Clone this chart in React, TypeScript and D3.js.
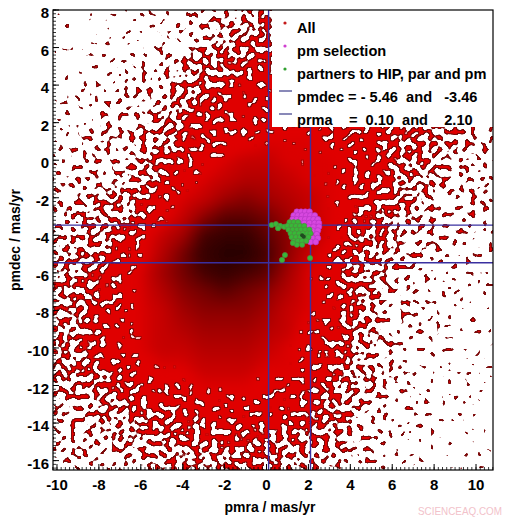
import React, { useMemo } from 'react';
import * as d3 from 'd3';

const W = 516;
const H = 521;
const M = { left: 53, right: 493, top: 10, bottom: 470 };
const PAD = 30;

const xDomain = [-10.19, 10.81];
const yDomain = [-16.5, 8];
const xTicks = [-10, -8, -6, -4, -2, 0, 2, 4, 6, 8, 10];
const yTicks = [-16, -14, -12, -10, -8, -6, -4, -2, 0, 2, 4, 6, 8];

// density of the "All" sample on a 1 mas/yr grid
// (1 = a few isolated stars ... 6 = fully covered, higher = darker core)
const gridX = [-10, -9, -8, -7, -6, -5, -4, -3, -2, -1, 0, 1, 2, 3, 4, 5, 6, 7, 8, 9, 10];
const gridY = [8, 7, 6, 5, 4, 3, 2, 1, 0, -1, -2, -3, -4, -5, -6, -7, -8, -9, -10, -11, -12, -13, -14, -15, -16];
const density = [
  [1, 1, 1, 1, 2, 2, 3, 3, 3, 4, 4, 4, 4, 4, 3, 3, 3, 3, 2, 2, 2],
  [1, 1, 1, 2, 2, 2, 3, 3, 4, 4, 5, 5, 5, 4, 4, 4, 3, 3, 3, 2, 2],
  [1, 1, 1, 2, 2, 3, 3, 4, 4, 5, 5, 5, 5, 5, 4, 4, 4, 3, 3, 3, 2],
  [1, 1, 2, 2, 2, 3, 4, 4, 5, 5, 6, 6, 6, 5, 5, 5, 4, 4, 3, 3, 3],
  [1, 2, 2, 2, 3, 3, 4, 5, 5, 6, 6, 6, 6, 6, 5, 5, 5, 4, 4, 3, 3],
  [2, 2, 2, 3, 3, 4, 4, 5, 6, 6, 6, 6, 6, 6, 6, 5, 5, 4, 4, 3, 3],
  [2, 2, 3, 3, 3, 4, 5, 6, 6, 6, 6, 6, 6, 6, 6, 6, 5, 5, 4, 4, 3],
  [2, 3, 3, 3, 4, 4, 5, 6, 6, 6, 6.5, 6.5, 6.5, 6, 6, 6, 5, 5, 4, 4, 3],
  [3, 3, 3, 3, 4, 5, 6, 6, 6.5, 7, 7, 6.5, 6.5, 6.5, 6, 6, 5, 5, 4, 3, 3],
  [3, 3, 3, 4, 4, 5, 6, 6.5, 7, 7.5, 7.5, 7, 6.5, 6.5, 6, 5.5, 5, 4, 4, 3, 3],
  [3, 3, 4, 4, 5, 6, 6.5, 7, 8, 8.5, 8, 7.5, 7, 6.5, 6, 5.5, 5, 4, 3, 3, 3],
  [3, 4, 4, 4, 5, 6, 7, 8.5, 9.5, 9.5, 9, 8, 7, 6.5, 6, 5, 4, 4, 3, 3, 3],
  [3, 4, 4, 5, 6, 7, 8, 10, 10.5, 10.5, 9.5, 8.5, 7.5, 6.5, 5.5, 5, 4, 3, 3, 3, 2],
  [4, 4, 4.5, 5.5, 6, 7.5, 9, 10.5, 11, 11, 10, 8.5, 7, 6, 5, 4.5, 4, 3, 3, 2, 2],
  [4, 4.5, 5, 6, 6.5, 8, 9, 10, 10.5, 10, 9.5, 8, 6.5, 6, 5, 4, 3.5, 3, 2.5, 2, 2],
  [4, 4.5, 5.5, 6, 6.5, 7.5, 8.5, 9, 9.5, 9, 8.5, 7.5, 6.5, 6, 5, 4, 3, 2.5, 2, 2, 2],
  [4, 4.5, 5.5, 6, 6.5, 7, 8, 8.5, 8.5, 8.5, 8, 7, 6.5, 6, 5, 4, 3, 2.5, 2, 2, 1.5],
  [4, 4.5, 5.5, 6, 6.5, 7, 7.5, 8, 8, 8, 7.5, 7, 6, 6, 5, 4, 3, 2.5, 2, 1.5, 1.5],
  [4, 4.5, 5.5, 6, 6.5, 7, 7, 7.5, 7.5, 7.5, 7, 6.5, 6, 5.5, 4.5, 4, 3, 2, 2, 1.5, 1.5],
  [4, 4.5, 5, 6, 6, 6.5, 6.5, 7, 7, 7, 6.5, 6.5, 6, 5.5, 4.5, 3.5, 3, 2, 2, 1.5, 1.5],
  [3.5, 4, 4.5, 5.5, 6, 6, 6, 6.5, 6.5, 6.5, 6, 6, 6, 5, 4, 3.5, 3, 2, 2, 1.5, 1.5],
  [3.5, 3.5, 4, 4.5, 5, 5.5, 6, 6, 6, 6, 6, 6, 5.5, 5, 4, 3, 2.5, 2, 1.5, 1.5, 1.5],
  [3, 3.5, 3.5, 4, 4.5, 5, 5, 5.5, 5.5, 6, 5.5, 5.5, 5, 4.5, 4, 3, 2.5, 2, 1.5, 1.5, 1],
  [3, 3, 3, 3.5, 4, 4, 4.5, 5, 5, 5, 5, 4.5, 4.5, 4, 3.5, 3, 2, 2, 1.5, 1, 1],
  [3, 3, 3, 3, 3.5, 4, 4, 4, 4.5, 4.5, 4.5, 4, 4, 3.5, 3, 2.5, 2, 1.5, 1.5, 1, 1],
];

const pmSelection: [number, number][] = [
  [1.45, -2.75], [1.65, -2.75], [1.85, -2.75], [2.05, -2.75],
  [1.3, -2.95], [1.5, -2.95], [1.7, -2.95], [1.9, -2.95], [2.1, -2.95], [2.3, -2.95],
  [1.25, -3.15], [1.45, -3.15], [1.65, -3.15], [1.85, -3.15], [2.05, -3.15], [2.25, -3.15], [2.45, -3.15],
  [1.3, -3.35], [1.55, -3.35], [1.8, -3.35], [2.05, -3.35], [2.3, -3.35], [2.5, -3.35],
  [1.4, -3.55], [1.7, -3.55], [2.0, -3.55], [2.25, -3.55], [2.5, -3.55],
  [1.6, -3.75], [1.9, -3.75], [2.2, -3.75], [2.45, -3.75],
  [1.8, -3.95], [2.1, -3.95], [2.4, -3.95],
  [1.9, -4.15], [2.2, -4.15], [2.45, -4.15],
  [2.1, -4.35], [2.35, -4.35],
];

const partners: [number, number][] = [
  [0.25, -3.45], [0.45, -3.4], [0.65, -3.5], [0.85, -3.55], [0.55, -3.62],
  [1.1, -3.3], [1.3, -3.3], [1.5, -3.3],
  [1.0, -3.5], [1.2, -3.5], [1.4, -3.5], [1.6, -3.5], [1.8, -3.5],
  [1.05, -3.7], [1.25, -3.7], [1.45, -3.7], [1.65, -3.7], [1.85, -3.7], [2.05, -3.7],
  [1.15, -3.9], [1.35, -3.9], [1.55, -3.9], [1.75, -3.9], [1.95, -3.9], [2.1, -3.9],
  [1.2, -4.1], [1.4, -4.1], [1.6, -4.1], [1.8, -4.1], [2.0, -4.1],
  [1.3, -4.3], [1.5, -4.3], [1.7, -4.3], [1.9, -4.3],
  [1.45, -4.5], [1.7, -4.5],
  [1.26, -4.41], [0.88, -5.05], [0.74, -5.31], [2.08, -5.21],
];
const partnersCore: [number, number][] = [[1.7, -4.0], [1.78, -4.08]];

const pmdecCuts = [-5.46, -3.46];
const prmaCuts = [0.1, 2.1];

const legendItems = [
  { label: 'All', kind: 'dot', color: '#c41a1a' },
  { label: 'pm selection', kind: 'dot', color: '#d040d0' },
  { label: 'partners to HIP, par and pm', kind: 'dot', color: '#30a030' },
  { label: 'pmdec = - 5.46  and   -3.46', kind: 'line', color: '#3a3a88' },
  { label: 'prma    =  0.10  and    2.10', kind: 'line', color: '#3a3a88' },
];

const FONT = "'Liberation Sans', Arial, sans-serif";

function sample(x: number, y: number) {
  const nx = gridX.length;
  const ny = gridY.length;
  const fx = Math.max(0, Math.min(nx - 1, x - gridX[0]));
  const fy = Math.max(0, Math.min(ny - 1, gridY[0] - y));
  const i0 = Math.min(nx - 2, Math.floor(fx));
  const j0 = Math.min(ny - 2, Math.floor(fy));
  const tx = fx - i0;
  const ty = fy - j0;
  const a = density[j0][i0] * (1 - tx) + density[j0][i0 + 1] * tx;
  const b = density[j0 + 1][i0] * (1 - tx) + density[j0 + 1][i0 + 1] * tx;
  return a * (1 - ty) + b * ty;
}

// density level -> grey level fed to the noise threshold (higher = more of the area covered)
const coverage = d3
  .scaleLinear()
  .domain([1, 2, 3, 4, 5, 6, 6.5, 7])
  .range([0.29, 0.35, 0.415, 0.49, 0.56, 0.65, 0.75, 0.9])
  .clamp(true);
const coreColor = d3
  .scaleLinear<string>()
  .domain([6, 7, 8, 9, 10, 11])
  .range(['#e00000', '#c60000', '#a20000', '#740000', '#460000', '#280000'])
  .clamp(true);

const App = () => {
  const x = d3.scaleLinear().domain(xDomain).range([M.left, M.right]);
  const y = d3.scaleLinear().domain(yDomain).range([M.bottom, M.top]);

  const imgs = useMemo(() => {
    const w = M.right - M.left + PAD * 2;
    const h = M.bottom - M.top + PAD * 2;
    const cv1 = document.createElement('canvas');
    const cv2 = document.createElement('canvas');
    cv1.width = cv2.width = w;
    cv1.height = cv2.height = h;
    const c1 = cv1.getContext('2d')!;
    const c2 = cv2.getContext('2d')!;
    const im1 = c1.createImageData(w, h);
    const im2 = c2.createImageData(w, h);
    for (let j = 0; j < h; j++) {
      const dy = y.invert(M.top - PAD + j + 0.5);
      for (let i = 0; i < w; i++) {
        const dx = x.invert(M.left - PAD + i + 0.5);
        const L = sample(dx, dy);
        const k = (j * w + i) * 4;
        const g = Math.round(coverage(L) * 255);
        im1.data[k] = g;
        im1.data[k + 1] = g;
        im1.data[k + 2] = g;
        im1.data[k + 3] = 255;
        const col = d3.rgb(coreColor(L));
        const a = Math.max(0, Math.min(1, (L - 6.3) / 0.5));
        im2.data[k] = col.r;
        im2.data[k + 1] = col.g;
        im2.data[k + 2] = col.b;
        im2.data[k + 3] = Math.round(a * 255);
      }
    }
    c1.putImageData(im1, 0, 0);
    c2.putImageData(im2, 0, 0);
    return { w, h, field: cv1.toDataURL(), core: cv2.toDataURL() };
  }, []);

  const xMinor = d3.range(-10.2, 10.81, 0.2);
  const yMinor = d3.range(-16.4, 8.01, 0.2);
  const fx = M.left - PAD;
  const fy = M.top - PAD;

  return (
    <svg width={W} height={H} style={{ position: 'absolute', left: 0, top: 0, background: '#fff' }}>
      <defs>
        <clipPath id="plot">
          <rect x={M.left} y={M.top} width={M.right - M.left} height={M.bottom - M.top} />
        </clipPath>
        <filter id="speckle" filterUnits="userSpaceOnUse" x={fx} y={fy} width={imgs.w} height={imgs.h} colorInterpolationFilters="sRGB">
          <feGaussianBlur in="SourceGraphic" stdDeviation="5" result="field" />
          <feTurbulence type="fractalNoise" baseFrequency="0.17" numOctaves="1" seed="11" result="noise" />
          <feColorMatrix in="noise" type="matrix" values="1 0 0 0 0  1 0 0 0 0  1 0 0 0 0  0 0 0 0 1" result="n" />
          <feComposite in="field" in2="n" operator="arithmetic" k1="0" k2="1" k3="1" k4="-1" result="sum" />
          <feColorMatrix in="sum" type="matrix" values="0 0 0 0 0.88  0 0 0 0 0  0 0 0 0 0  40 0 0 0 0" result="blob" />
          <feMorphology in="blob" operator="erode" radius="1" result="inner" />
          <feFlood floodColor="#7c0a0a" result="dark" />
          <feComposite in="dark" in2="blob" operator="in" result="rim" />
          <feMerge>
            <feMergeNode in="rim" />
            <feMergeNode in="inner" />
          </feMerge>
        </filter>
        <filter id="soft" filterUnits="userSpaceOnUse" x={fx} y={fy} width={imgs.w} height={imgs.h}>
          <feGaussianBlur stdDeviation="5" />
        </filter>
      </defs>

      <g clipPath="url(#plot)">
        <image href={imgs.field} x={fx} y={fy} width={imgs.w} height={imgs.h} filter="url(#speckle)" />
        <image href={imgs.core} x={fx} y={fy} width={imgs.w} height={imgs.h} filter="url(#soft)" />
        {pmdecCuts.map((v) => (
          <line key={'h' + v} x1={M.left} x2={M.right} y1={y(v)} y2={y(v)} stroke="#3a30a0" strokeWidth={1.4} />
        ))}
        {prmaCuts.map((v) => (
          <line key={'v' + v} x1={x(v)} x2={x(v)} y1={M.top} y2={M.bottom} stroke="#3a30a0" strokeWidth={1.4} />
        ))}
        {pmSelection.map(([px, py], i) => (
          <circle key={'m' + i} cx={x(px)} cy={y(py)} r={3} fill="#d848e0" stroke="#b030c0" strokeWidth={0.6} />
        ))}
        {partners.map(([px, py], i) => (
          <circle key={'g' + i} cx={x(px)} cy={y(py)} r={2.6} fill="#38b838" stroke="#508a40" strokeWidth={0.7} />
        ))}
        {partnersCore.map(([px, py], i) => (
          <circle key={'c' + i} cx={x(px)} cy={y(py)} r={2} fill="#1f4a1f" />
        ))}
      </g>

      {/* legend */}
      <rect x={272} y={M.top} width={M.right - 272} height={117} fill="#fff" />
      {legendItems.map((it, i) => {
        const base = 33 + i * 23;
        return (
          <g key={it.label}>
            {it.kind === 'dot' ? (
              <circle cx={285} cy={base - 10} r={1.6} fill={it.color} />
            ) : (
              <line x1={279} x2={292} y1={base - 11} y2={base - 11} stroke={it.color} strokeWidth={1.2} />
            )}
            <text x={297} y={base} fontFamily={FONT} fontWeight="bold" fontSize={14.6} fill="#000" style={{ whiteSpace: 'pre' }}>
              {it.label}
            </text>
          </g>
        );
      })}

      {/* frame */}
      <rect x={M.left} y={M.top} width={M.right - M.left} height={M.bottom - M.top} fill="none" stroke="#000" strokeWidth={1.2} />

      {/* ticks */}
      {xMinor.map((v, i) => (
        <line key={'xm' + i} x1={x(v)} x2={x(v)} y1={M.bottom} y2={M.bottom - 3} stroke="#000" strokeWidth={0.8} />
      ))}
      {xTicks.map((v) => (
        <g key={'xt' + v}>
          <line x1={x(v)} x2={x(v)} y1={M.bottom} y2={M.bottom - 6} stroke="#000" strokeWidth={1} />
          <text x={x(v)} y={490} textAnchor="middle" fontFamily={FONT} fontWeight="bold" fontSize={15}>
            {v}
          </text>
        </g>
      ))}
      {yMinor.map((v, i) => (
        <line key={'ym' + i} x1={M.left} x2={M.left + 3} y1={y(v)} y2={y(v)} stroke="#000" strokeWidth={0.8} />
      ))}
      {yTicks.map((v) => (
        <g key={'yt' + v}>
          <line x1={M.left} x2={M.left + 6} y1={y(v)} y2={y(v)} stroke="#000" strokeWidth={1} />
          <text x={49} y={y(v) + 8} textAnchor="end" fontFamily={FONT} fontWeight="bold" fontSize={15}>
            {v}
          </text>
        </g>
      ))}

      <text x={270} y={512} textAnchor="middle" fontFamily={FONT} fontWeight="bold" fontSize={14}>
        pmra / mas/yr
      </text>
      <text
        transform={`translate(20,${(M.top + M.bottom) / 2}) rotate(-90)`}
        textAnchor="middle"
        fontFamily={FONT}
        fontWeight="bold"
        fontSize={14}
      >
        pmdec / mas/yr
      </text>

      <text x={418} y={515} fontFamily={FONT} fontSize={11} fill="#f2c2ca" textLength={84} lengthAdjust="spacingAndGlyphs">
        SCIENCEAQ.COM
      </text>
    </svg>
  );
};

export default App;
